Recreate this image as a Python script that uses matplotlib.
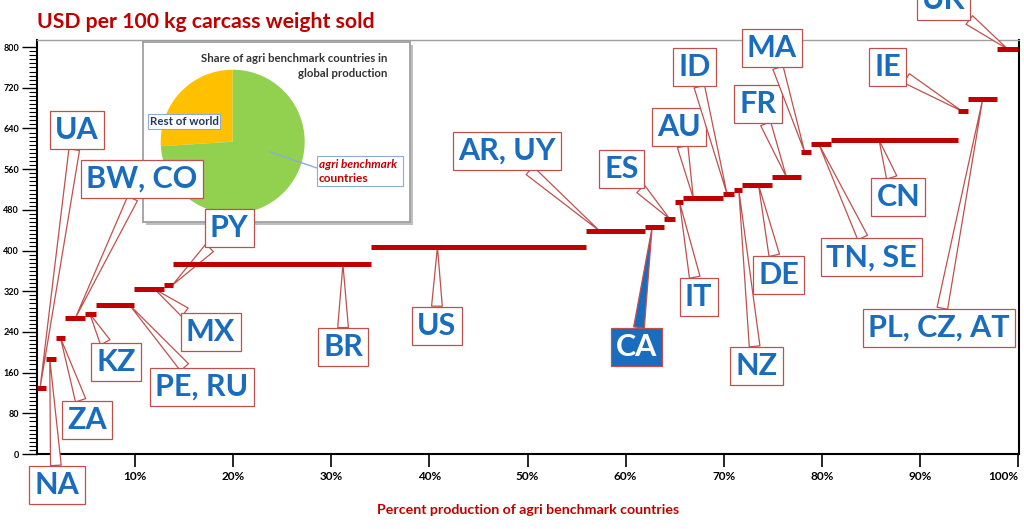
import matplotlib
matplotlib.use('Agg')
import matplotlib.pyplot as plt
import numpy as np
from matplotlib.ticker import FixedLocator
from matplotlib.patches import Rectangle

plt.rcParams['font.family'] = ['Lato', 'DejaVu Sans']

# ---------------- data ----------------
countries = ["UA", "NA", "ZA", "BW, CO", "KZ", "PE, RU", "MX", "PY", "BR", "US",
             "AR, UY", "CA", "ES", "IT", "AU", "ID", "NZ", "DE", "FR", "MA",
             "TN, SE", "CN", "IE", "PL, CZ, AT", "UK"]
share = [0.9, 1.0, 1.0, 2.0, 1.1, 3.9, 3.0, 1.0, 20.1, 22.0,
         6.0, 1.9, 1.1, 0.9, 4.0, 1.1, 0.9, 3.0, 3.0, 1.0,
         2.0, 13.0, 1.0, 3.0, 2.1]
price = [130, 187, 228, 267, 275, 293, 324, 332, 373, 407,
         438, 446, 462, 495, 503, 511, 519, 529, 544, 594,
         609, 617, 674, 698, 796]
yticks = list(range(0, 801, 80))
xticks = [10, 20, 30, 40, 50, 60, 70, 80, 90, 100]
xtick_labels = ["10%", "20%", "30%", "40%", "50%", "60%", "70%", "80%", "90%", "100%"]
pie_labels = ["Rest of world", "agri benchmark\ncountries"]
pie_share = [26, 74]

# ---------------- layout ----------------
label_pos = [(4.08, 637), (2.04, -61), (5.09, 67), (10.7, 541), (8.05, 181),
             (16.8, 132), (17.7, 240), (19.6, 444), (31.2, 210), (40.75, 252),
             (47.9, 596), (61.1, 210), (59.6, 560), (67.45, 309), (65.4, 643),
             (67.0, 761), (73.35, 173), (75.6, 352), (73.5, 688), (74.9, 798),
             (85.1, 387), (87.8, 505), (86.7, 761), (91.9, 248), (92.4, 892)]
target_frac = [0.35, 0.4, 0.5, 0.5, 0.45, 0.88, 0.7, 0.9, 0.86, 0.31,
               0.23, 0.37, 0.55, 0.55, 0.25, 0.4, 0.6, 0.55, 0.5, 0.35,
               0.4, 0.38, 0.4, 0.5, 0.5]

W, H = 1024, 529
RED = '#C00000'
BLUE = '#1A6DBE'
EDGE = '#C0504D'

fig = plt.figure(figsize=(W / 100, H / 100), dpi=100)
ax = fig.add_axes([37 / W, 1 - 454 / H, 982 / W, 414 / H])
ax.set_zorder(2)
ax.patch.set_visible(False)

edges = np.concatenate([[0], np.cumsum(share)])
starts, ends = edges[:-1], edges[1:]
ax.hlines(price, starts, ends, colors=RED, lw=3.6, zorder=6)

ax.set_xlim(0, 100.1)
ax.set_ylim(0, 814)
ax.set_yticks(yticks)
ax.yaxis.set_minor_locator(FixedLocator(list(range(0, 801, 8))))
ax.set_xticks(xticks)
ax.set_xticklabels(xtick_labels)
ax.tick_params(axis='y', which='major', length=11, width=1.0, direction='out',
               labelsize=6.5, pad=2)
ax.tick_params(axis='y', which='minor', length=6, width=0.8, direction='out')
ax.tick_params(axis='x', which='major', length=9, width=1.2, direction='out',
               labelsize=8.5, pad=3)
for lab in ax.get_yticklabels() + ax.get_xticklabels():
    lab.set_fontweight('bold')
ax.get_xticklabels()[-1].set_ha('right')
for s in ['left', 'bottom', 'right']:
    ax.spines[s].set_linewidth(1.5)
    ax.spines[s].set_color('black')
ax.spines['top'].set_color('#A0A0A0')
ax.spines['top'].set_linewidth(1.0)

for i, name in enumerate(countries):
    tx = starts[i] + target_frac[i] * (ends[i] - starts[i])
    is_ca = name == "CA"
    fc = BLUE if is_ca else 'white'
    tc = 'white' if is_ca else BLUE
    ax.annotate(name, xy=(tx, price[i]), xytext=label_pos[i], textcoords='data',
                ha='center', va='center', fontsize=22, fontweight='bold', color=tc,
                bbox=dict(boxstyle='square,pad=0.17', fc=fc, ec=EDGE, lw=0.9),
                arrowprops=dict(arrowstyle='wedge,tail_width=0.35,shrink_factor=0.5',
                                fc=fc, ec=EDGE, lw=0.9, shrinkA=0, shrinkB=0),
                annotation_clip=False, zorder=5)

# ---------------- pie inset ----------------
ix0, iy0, ix1, iy1 = 143, 42, 410, 222
fig.patches.append(Rectangle(((ix0 + 3) / W, 1 - (iy1 + 3) / H), (ix1 - ix0) / W,
                             (iy1 - iy0) / H, transform=fig.transFigure,
                             fc='#BFBFBF', ec='none', zorder=0.5))
axp = fig.add_axes([ix0 / W, 1 - iy1 / H, (ix1 - ix0) / W, (iy1 - iy0) / H])
axp.set_zorder(1)
axp.pie(pie_share, colors=['#FFC000', '#92D050'], startangle=90, counterclock=True,
        center=(232.7 - ix0, iy1 - 141.7), radius=72, frame=True,
        wedgeprops=dict(linewidth=0))
axp.set_xlim(0, ix1 - ix0)
axp.set_ylim(0, iy1 - iy0)
axp.set_aspect('auto')
axp.set_xticks([])
axp.set_yticks([])
for s in axp.spines.values():
    s.set_color('#A0A0A0')
    s.set_linewidth(1.3)

axp.text(387 - ix0, iy1 - 66, "Share of agri benchmark countries in\nglobal production",
         ha='right', va='center', multialignment='right', fontsize=8.2,
         fontweight='bold', color='#333333', linespacing=1.35)
axp.text(184 - ix0, iy1 - 121.5, pie_labels[0], ha='center', va='center',
         fontsize=8.3, fontweight='bold', color='#1F3864',
         bbox=dict(boxstyle='square,pad=0.15', fc='white', ec='#8EA9DB', lw=0.8))
axp.plot([270 - ix0, 317 - ix0], [iy1 - 152, iy1 - 168], color='#8EA9DB', lw=1.0)
axp.add_patch(Rectangle((317 - ix0, iy1 - 186), 86, 30, fc='white', ec='#8EA9DB', lw=0.8))
l1, l2 = pie_labels[1].split("\n")
axp.text(319 - ix0, iy1 - 164, l1, ha='left', va='center', fontsize=8.6,
         style='italic', fontweight='bold', color=RED)
axp.text(319 - ix0, iy1 - 178, l2, ha='left', va='center', fontsize=8.6,
         fontweight='bold', color=RED)

# ---------------- titles ----------------
fig.text(37 / W, 1 - 28 / H, "USD per 100 kg carcass weight sold", ha='left',
         va='baseline', fontsize=15.3, fontweight='bold', color=RED)
fig.text(528 / W, 1 - 514 / H, "Percent production of agri benchmark countries",
         ha='center', va='baseline', fontsize=10.2, fontweight='bold', color=RED)

fig.savefig('out.png', dpi=100)
